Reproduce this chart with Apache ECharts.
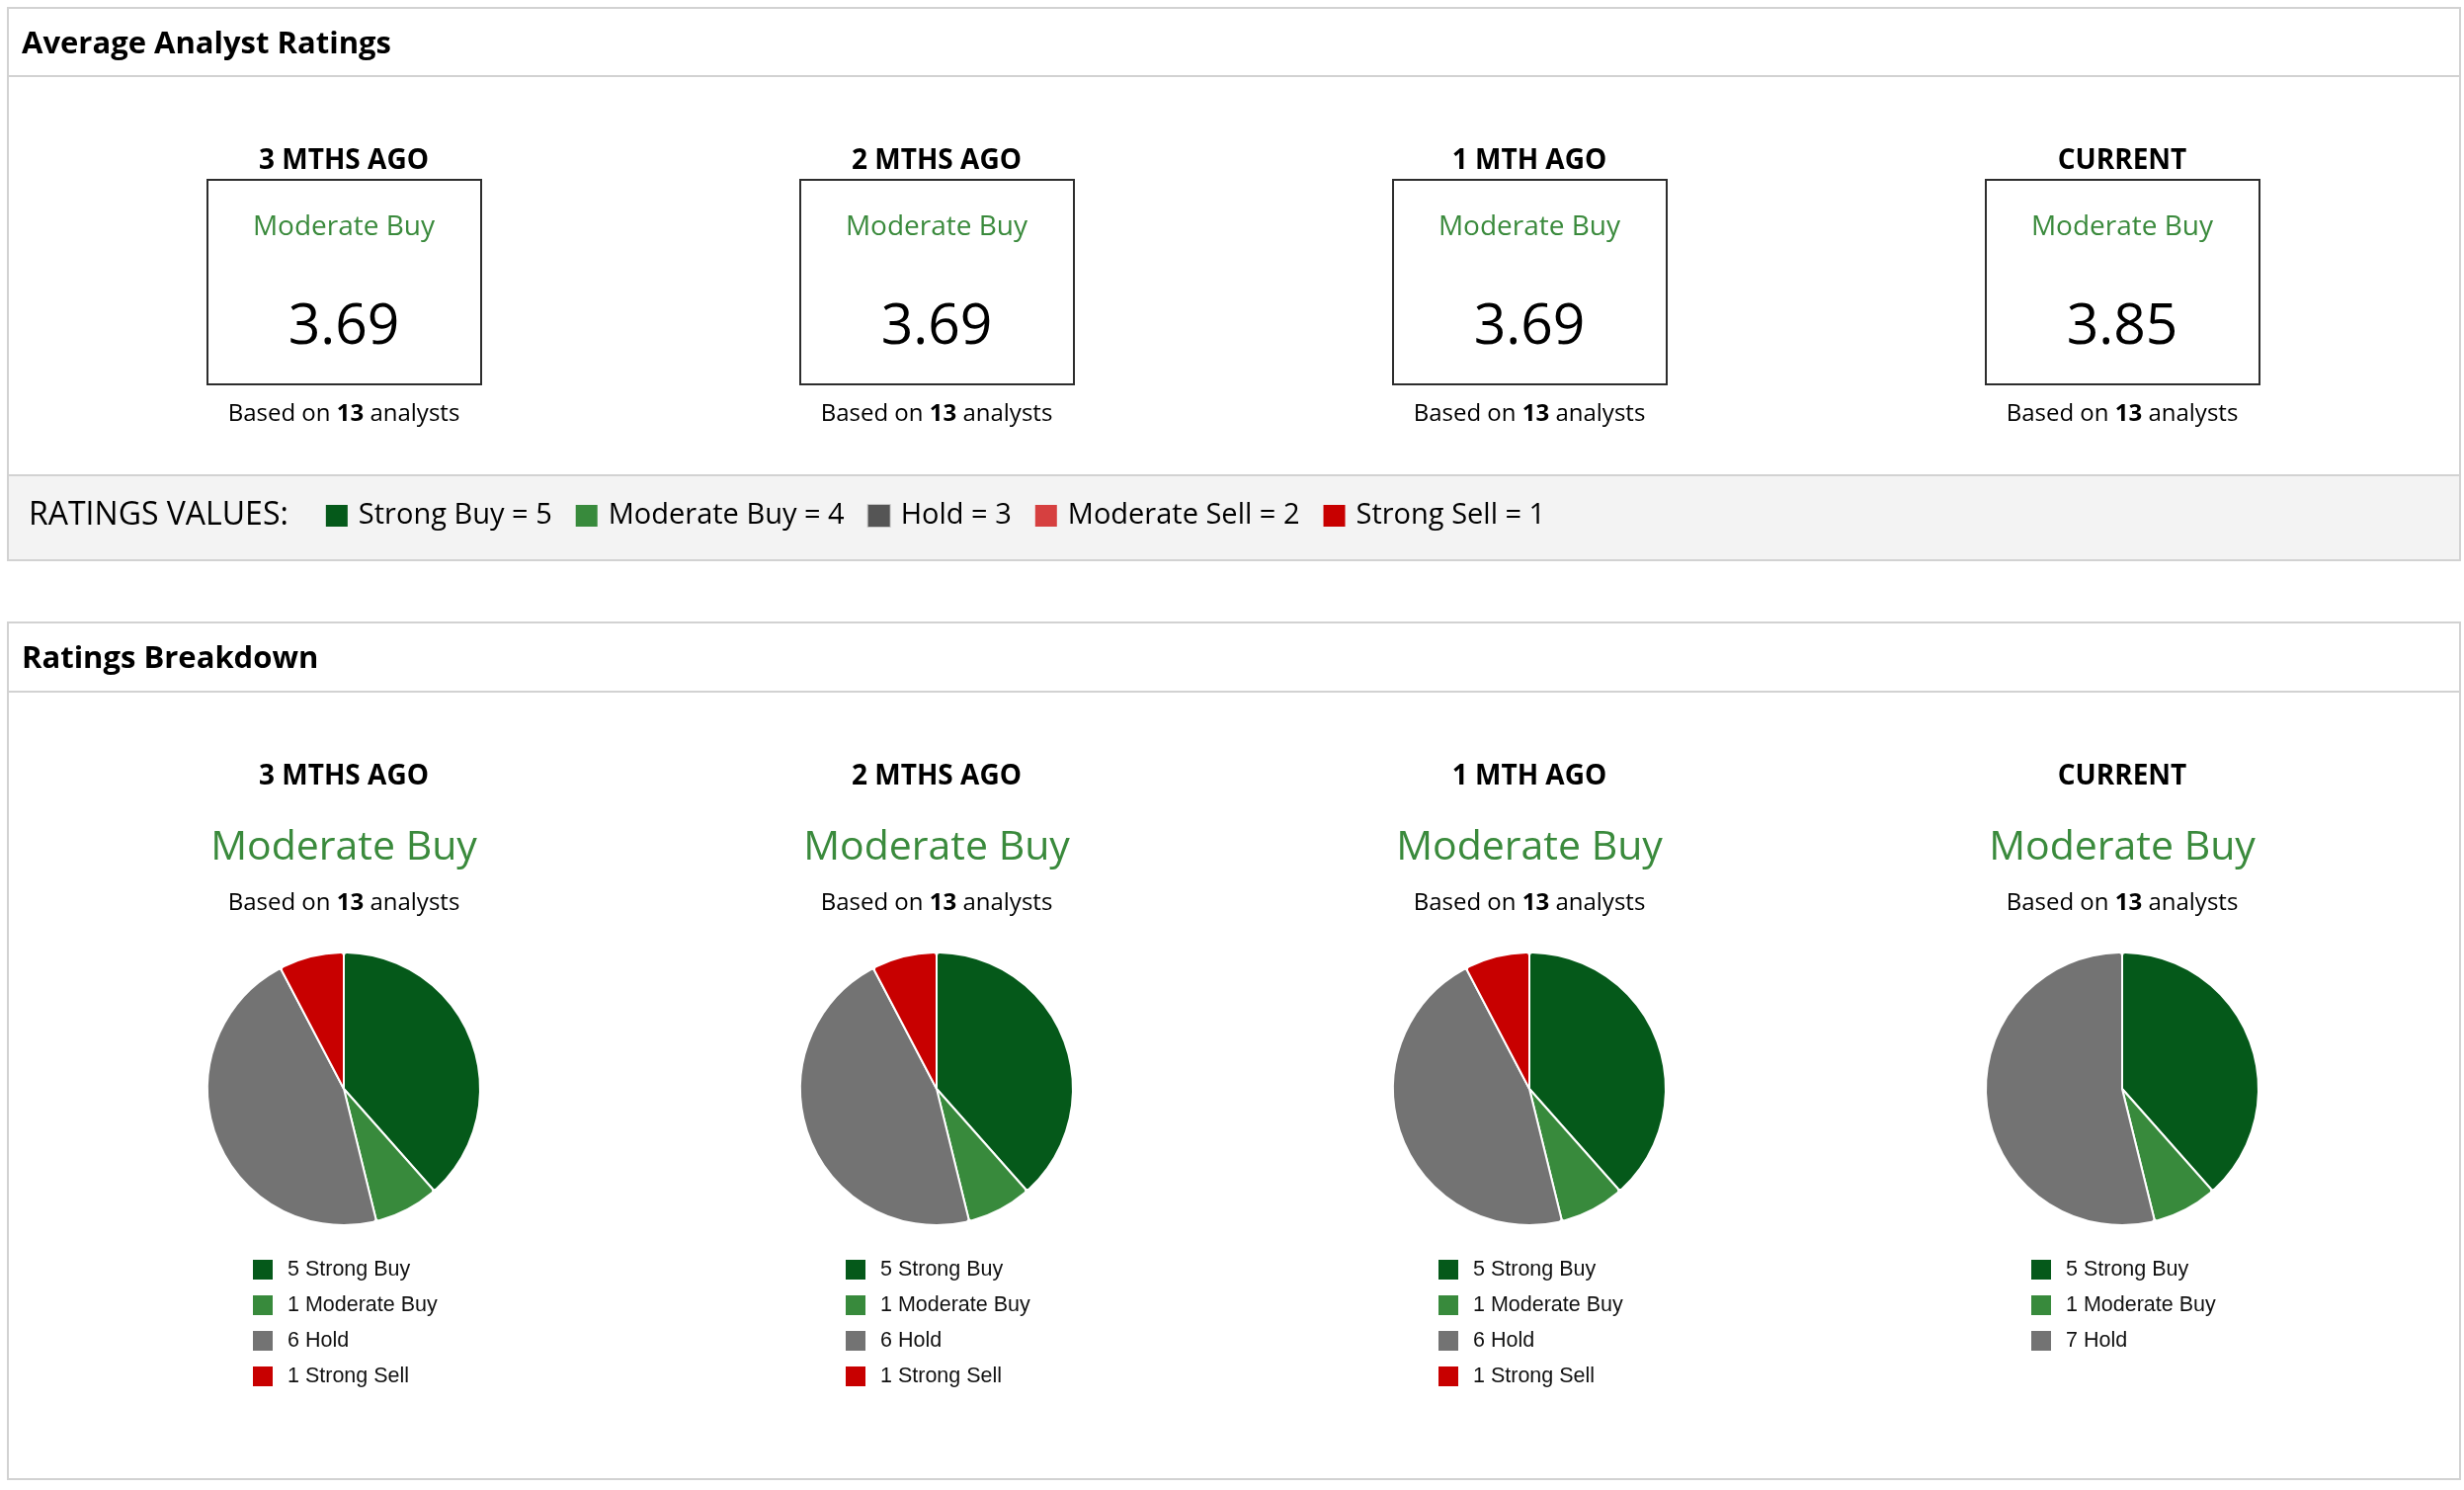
<!DOCTYPE html>
<html>
<head>
<meta charset="utf-8">
<title>Analyst Ratings</title>
<script src="https://cdn.jsdelivr.net/npm/echarts@6/dist/echarts.min.js"></script>
<style>
  html, body { margin: 0; padding: 0; background: #fff; }
  #chart { width: 2494px; height: 1508px; }
</style>
</head>
<body>
<div id="chart"></div>
<script>
// ---- data ----
const periods = ["3 MTHS AGO", "2 MTHS AGO", "1 MTH AGO", "CURRENT"];
const consensus = ["Moderate Buy", "Moderate Buy", "Moderate Buy", "Moderate Buy"];
const avgScores = [3.69, 3.69, 3.69, 3.85];
const analystCounts = [13, 13, 13, 13];

const ratingNames = ["Strong Buy", "Moderate Buy", "Hold", "Moderate Sell", "Strong Sell"];
const ratingValues = [5, 4, 3, 2, 1];

// analysts per rating, one entry per period
const strongBuy = [5, 5, 5, 5];
const moderateBuy = [1, 1, 1, 1];
const hold = [6, 6, 6, 7];
const moderateSell = [0, 0, 0, 0];
const strongSell = [1, 1, 1, 0];
const ratingCounts = [strongBuy, moderateBuy, hold, moderateSell, strongSell];

// ---- styling ----
const pieColors = ["#05591a", "#388a3c", "#737373", "#d64040", "#c80000"];
const keyColors = ["#05591a", "#388a3c", "#555555", "#d64040", "#c80000"];
const GREEN_TEXT = "#3a8a3c";
const BORDER = "#d2d2d2";
const FONT = "'Open Sans', 'Noto Sans', sans-serif";
const LEGEND_FONT = "'Liberation Sans', Arial, sans-serif";

const colX = [348, 948, 1548, 2148];

const text = (x, y, str, opts) => ({
  type: "text",
  x: x,
  y: y,
  silent: true,
  style: Object.assign({
    text: str,
    fill: "#000",
    fontFamily: FONT,
    fontSize: 24,
    textAlign: "center",
    align: "center",
    textVerticalAlign: "middle",
    verticalAlign: "middle"
  }, opts || {})
});

const rect = (x, y, w, h, style) => ({
  type: "rect",
  silent: true,
  shape: { x: x, y: y, width: w, height: h },
  style: style
});

const line = (x1, y1, x2, y2, color) => ({
  type: "line",
  silent: true,
  shape: { x1: x1, y1: y1, x2: x2, y2: y2 },
  style: { stroke: color, lineWidth: 2 }
});

const graphics = [];

// panels
graphics.push(rect(8, 8, 2482, 559, { fill: "#fff", stroke: BORDER, lineWidth: 2 }));
graphics.push(line(9, 77, 2489, 77, BORDER));
graphics.push(rect(9, 481, 2480, 85, { fill: "#f3f3f3" }));
graphics.push(line(9, 481, 2489, 481, BORDER));
graphics.push(rect(8, 630, 2482, 867, { fill: "#fff", stroke: BORDER, lineWidth: 2 }));
graphics.push(line(9, 700, 2489, 700, BORDER));

graphics.push(text(22, 45, "Average Analyst Ratings", { textAlign: "left", align: "left", fontSize: 31, fontWeight: "bold" }));
graphics.push(text(22, 667, "Ratings Breakdown", { textAlign: "left", align: "left", fontSize: 31, fontWeight: "bold" }));

const basedOn = (n) => "Based on {b|" + n + "} analysts";
const boldRich = { b: { fontWeight: "bold", fontFamily: FONT, fontSize: 24, fill: "#000" } };

periods.forEach((p, i) => {
  const cx = colX[i];
  // average rating boxes
  graphics.push(text(cx, 163, p, { fontSize: 28, fontWeight: "bold" }));
  graphics.push(rect(cx - 138, 182, 277, 207, { fill: "none", stroke: "#2d2d2d", lineWidth: 2 }));
  graphics.push(text(cx, 230, consensus[i], { fontSize: 28, fill: GREEN_TEXT }));
  graphics.push(text(cx, 332, avgScores[i].toFixed(2), { fontSize: 57 }));
  graphics.push(text(cx, 419, basedOn(analystCounts[i]), { rich: boldRich }));
  // breakdown headers
  graphics.push(text(cx, 786, p, { fontSize: 28, fontWeight: "bold" }));
  graphics.push(text(cx, 858, consensus[i], { fontSize: 41, fill: GREEN_TEXT }));
  graphics.push(text(cx, 914, basedOn(analystCounts[i]), { rich: boldRich }));
});

// ratings values key
let keyStr = "{h|RATINGS VALUES:}{g1|}";
const keyRich = {
  h: { fontFamily: FONT, fontSize: 32, fill: "#000" },
  g1: { width: 38 },
  g2: { width: 11 },
  g3: { width: 24 },
  t: { fontFamily: FONT, fontSize: 29, fill: "#000" }
};
ratingNames.forEach((n, k) => {
  keyRich["s" + k] = {
    width: 22, height: 22, backgroundColor: keyColors[k], verticalAlign: "middle",
    borderColor: k === 2 ? "#c8c8c8" : keyColors[k], borderWidth: k === 2 ? 1 : 0
  };
  keyStr += "{s" + k + "|}{g2|}{t|" + n + " = " + ratingValues[k] + "}" + (k < ratingNames.length - 1 ? "{g3|}" : "");
});
graphics.push(text(29, 522, keyStr, { textAlign: "left", align: "left", fontSize: 30, rich: keyRich }));

// pies and their legends
const series = [];
const legends = [];
periods.forEach((p, i) => {
  const data = ratingNames
    .map((n, k) => ({
      name: ratingCounts[k][i] + " " + n,
      value: ratingCounts[k][i],
      itemStyle: { color: pieColors[k] }
    }))
    .filter((d) => d.value > 0);

  series.push({
    type: "pie",
    name: p,
    center: [colX[i], 1102],
    radius: 138,
    startAngle: 90,
    clockwise: true,
    animation: false,
    label: { show: false },
    labelLine: { show: false },
    emphasis: { disabled: true },
    itemStyle: { borderColor: "#fff", borderWidth: 2, borderRadius: 3 },
    data: data
  });

  legends.push({
    orient: "vertical",
    left: colX[i] - 94,
    top: 1273,
    padding: 0,
    itemWidth: 22,
    itemHeight: 22,
    itemGap: 12,
    icon: "rect",
    selectedMode: false,
    data: data.map((d) => d.name),
    textStyle: {
      fontFamily: LEGEND_FONT,
      fontSize: 21.5,
      color: "#111",
      padding: [0, 0, 0, 9]
    }
  });
});

const chart = echarts.init(document.getElementById("chart"));
chart.setOption({
  animation: false,
  backgroundColor: "#fff",
  graphic: { elements: graphics },
  legend: legends,
  series: series
});
</script>
</body>
</html>
